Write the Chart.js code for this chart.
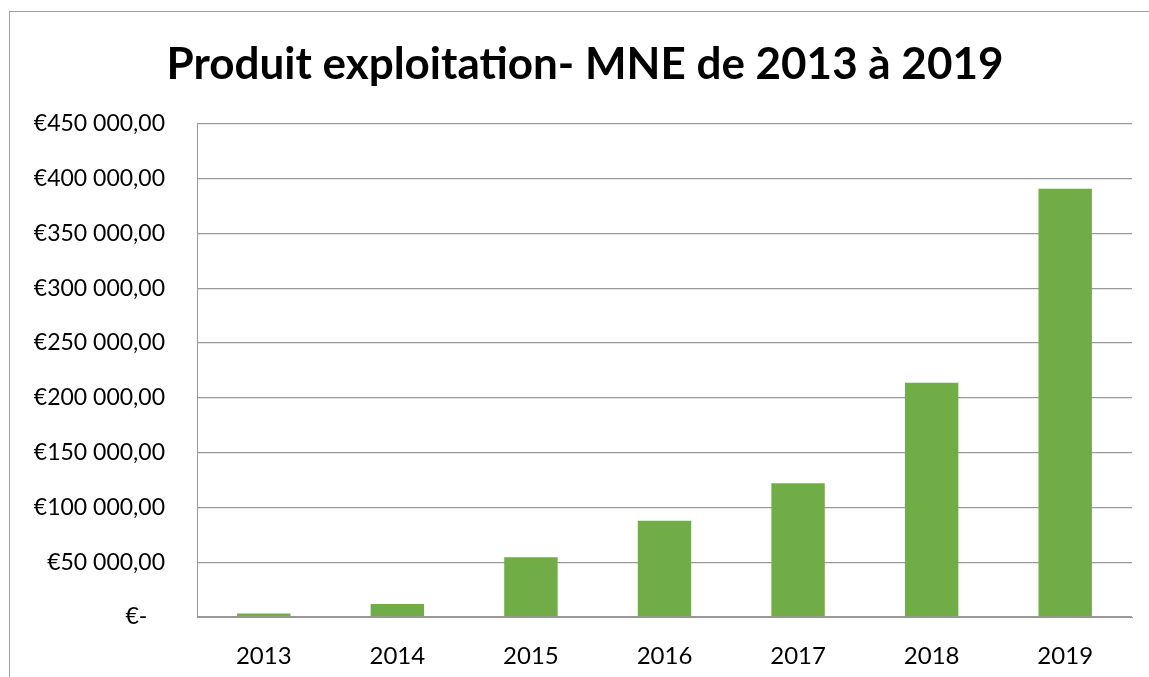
<!DOCTYPE html>
<html lang="fr">
<head>
    <meta charset="UTF-8">
    <title>Produit exploitation- MNE de 2013 à 2019</title>
    <style>
        body {
            margin: 0;
            background: #fff;
            font-family: 'Lato', sans-serif;
        }

        .frame {
            position: absolute;
            left: 9px;
            top: 11px;
            width: 1139px;
            height: 665px;
            border-left: 1px solid #a0a0a0;
            border-top: 1px solid #a0a0a0;
        }
    </style>
</head>
<body>
    <div class="frame">
        <canvas id="myCanvas"></canvas>
    </div>
    <script src="https://cdn.jsdelivr.net/npm/chart.js@4/dist/chart.umd.min.js"></script>
    <script>
        const chartTitle = 'Produit exploitation- MNE de 2013 à 2019';
        const years = ['2013', '2014', '2015', '2016', '2017', '2018', '2019'];
        const produit = [3100, 11900, 54600, 87800, 122000, 213700, 390800];
        const yMax = 450000;
        const yStep = 50000;

        // "450 000,00" style, like the Excel accounting format
        function euro(v) {
            if (v === 0) return '€-   ';
            const s = String(Math.round(v)).replace(/\B(?=(\d{3})+(?!\d))/g, ' ');
            return '€' + s + ',00';
        }

        // title sits a little right of the canvas centre in the original
        const shiftTitle = {
            id: 'shiftTitle',
            afterLayout(chart) {
                if (chart.titleBlock) chart.titleBlock.left += 28;
            }
        };

        const canvas = document.getElementById('myCanvas');
        canvas.width = 1139;
        canvas.height = 665;

        new Chart(canvas, {
            type: 'bar',
            data: {
                labels: years,
                datasets: [{
                    label: 'Produit exploitation',
                    data: produit,
                    backgroundColor: '#70ad47',
                    barPercentage: 0.4,
                    categoryPercentage: 1
                }]
            },
            options: {
                responsive: false,
                animation: false,
                layout: {
                    padding: { top: 0, right: 17, bottom: 0, left: 0 }
                },
                plugins: {
                    legend: { display: false },
                    tooltip: { enabled: false },
                    title: {
                        display: true,
                        text: chartTitle,
                        color: '#000',
                        font: { family: 'Lato', size: 44, weight: 'bold', lineHeight: 1.2 },
                        padding: { top: 26, bottom: 33 }
                    }
                },
                scales: {
                    x: {
                        grid: { display: false },
                        border: { display: true, color: '#999' },
                        ticks: {
                            color: '#000',
                            padding: 17,
                            font: { family: 'Lato', size: 24 }
                        },
                        afterFit(scale) { scale.height = 60; }
                    },
                    y: {
                        min: 0,
                        max: yMax,
                        grid: { color: '#999', lineWidth: 1.3, drawTicks: false },
                        border: { display: true, color: '#999' },
                        ticks: {
                            stepSize: yStep,
                            color: '#000',
                            padding: 32,
                            font: { family: 'Lato', size: 23 },
                            callback: (v) => euro(v)
                        },
                        afterFit(scale) { scale.width = 187; }
                    }
                }
            },
            plugins: [shiftTitle]
        });
    </script>
</body>
</html>
